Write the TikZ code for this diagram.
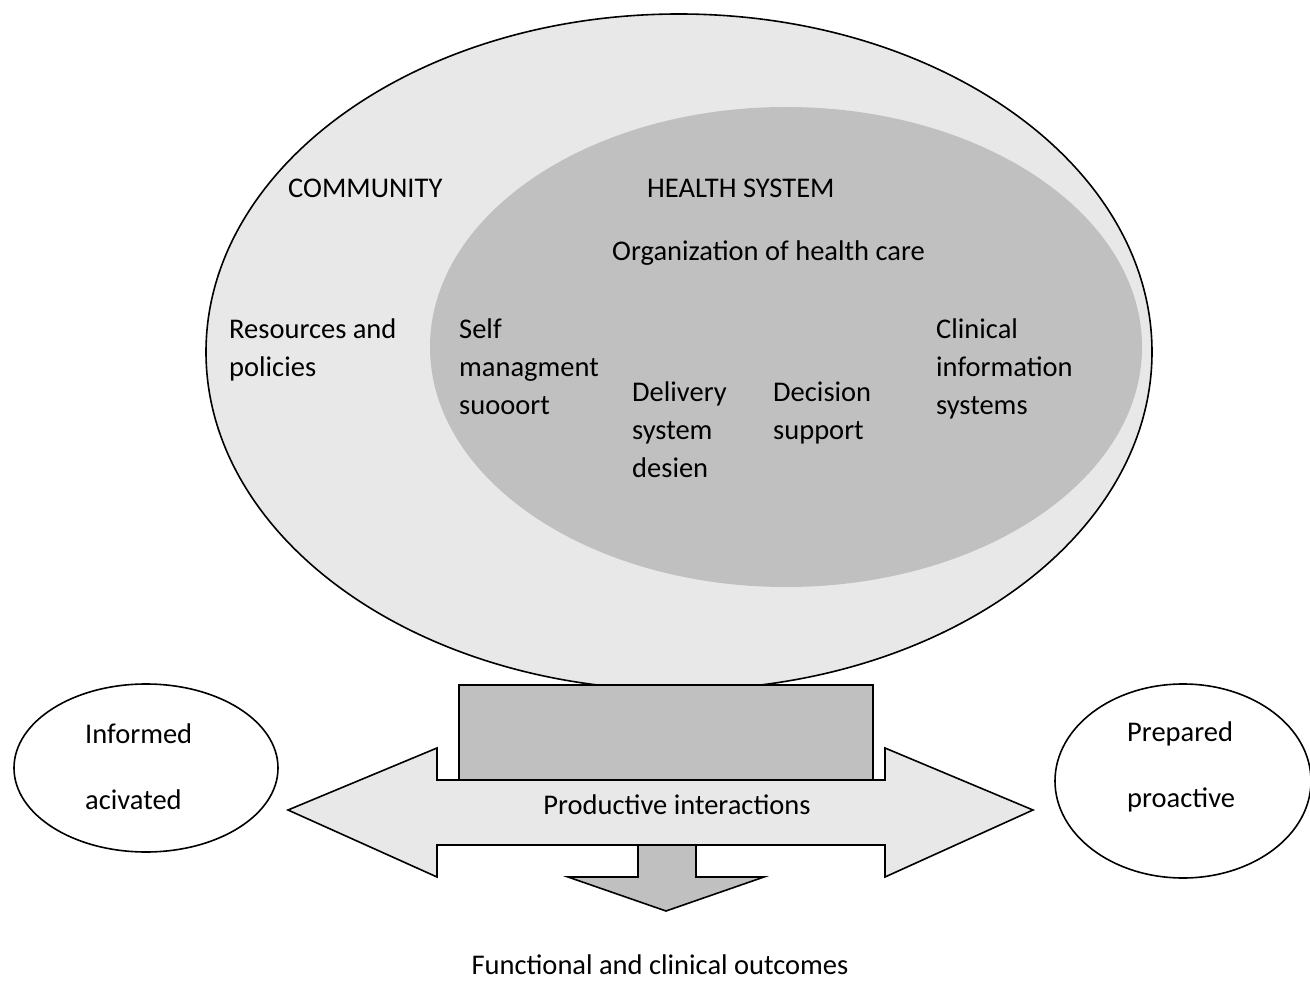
\documentclass[tikz,border=0pt]{standalone}
\usepackage{fontspec}
\setmainfont{Carlito}
\usetikzlibrary{shapes.geometric}
\definecolor{outerfill}{HTML}{E8E8E8}
\definecolor{innerfill}{HTML}{C0C0C0}
\tikzset{
  lbl/.style={anchor=west, inner sep=0pt, font=\fontsize{28.5}{38}\selectfont, align=left},
  clbl/.style={anchor=center, inner sep=0pt, font=\fontsize{28.5}{38}\selectfont},
  outline/.style={draw=black, line width=1.6pt},
  oval/.style={ellipse, draw=black, line width=1.6pt, fill=white, inner sep=0pt}
}
\begin{document}
\begin{tikzpicture}[x=1pt,y=-1pt]
\useasboundingbox (0,0) rectangle (1310,984);
% outer community ellipse
\path[outline, fill=outerfill] (679,352) ellipse [x radius=473, y radius=338];
% inner health system ellipse
\path[fill=innerfill] (786,347) ellipse [x radius=356, y radius=240];
% box below
\path[outline, fill=innerfill] (459,685) rectangle (873,781);
% double arrow
\path[outline, fill=outerfill, line join=miter]
  (288,810) -- (437,748) -- (437,780) -- (885,780) -- (885,748) -- (1033,810)
  -- (885,877) -- (885,845) -- (437,845) -- (437,877) -- cycle;
% down arrow
\path[outline, fill=innerfill, line join=miter]
  (638,845) -- (696,845) -- (696,877) -- (764,877) -- (666,911) -- (568,877) -- (638,877) -- cycle;
\draw[black, line width=1.6pt] (437,845) -- (885,845);
% side ovals
\node[oval, minimum width=264pt, minimum height=168pt] (inf) at (146,768) {};
\node[oval, minimum width=256pt, minimum height=194pt] (prep) at (1183,781) {};
% labels
\node[lbl] (comm) at (288,188) {COMMUNITY};
\node[lbl] (hs) at (647,188) {HEALTH SYSTEM};
\node[lbl] (org) at (612,253) {Organization of health care};
\node[lbl, anchor=north west] (res) at (229,319) {Resources and\\policies};
\node[lbl, anchor=north west] (self) at (459,319) {Self\\managment\\suooort};
\node[lbl, anchor=north west] (del) at (632,382) {Delivery\\system\\desien};
\node[lbl, anchor=north west] (dec) at (773,382) {Decision\\support};
\node[lbl, anchor=north west] (clin) at (936,319) {Clinical\\information\\systems};
\node[lbl] (infa) at (85,734) {Informed};
\node[lbl] (infb) at (85,800) {acivated};
\node[lbl] (prepa) at (1127,734) {Prepared};
\node[lbl] (prepb) at (1127,800) {proactive};
\node[clbl] (prod) at (677,805) {Productive interactions};
\node[clbl] (out) at (660,965) {Functional and clinical outcomes};
\end{tikzpicture}
\end{document}
